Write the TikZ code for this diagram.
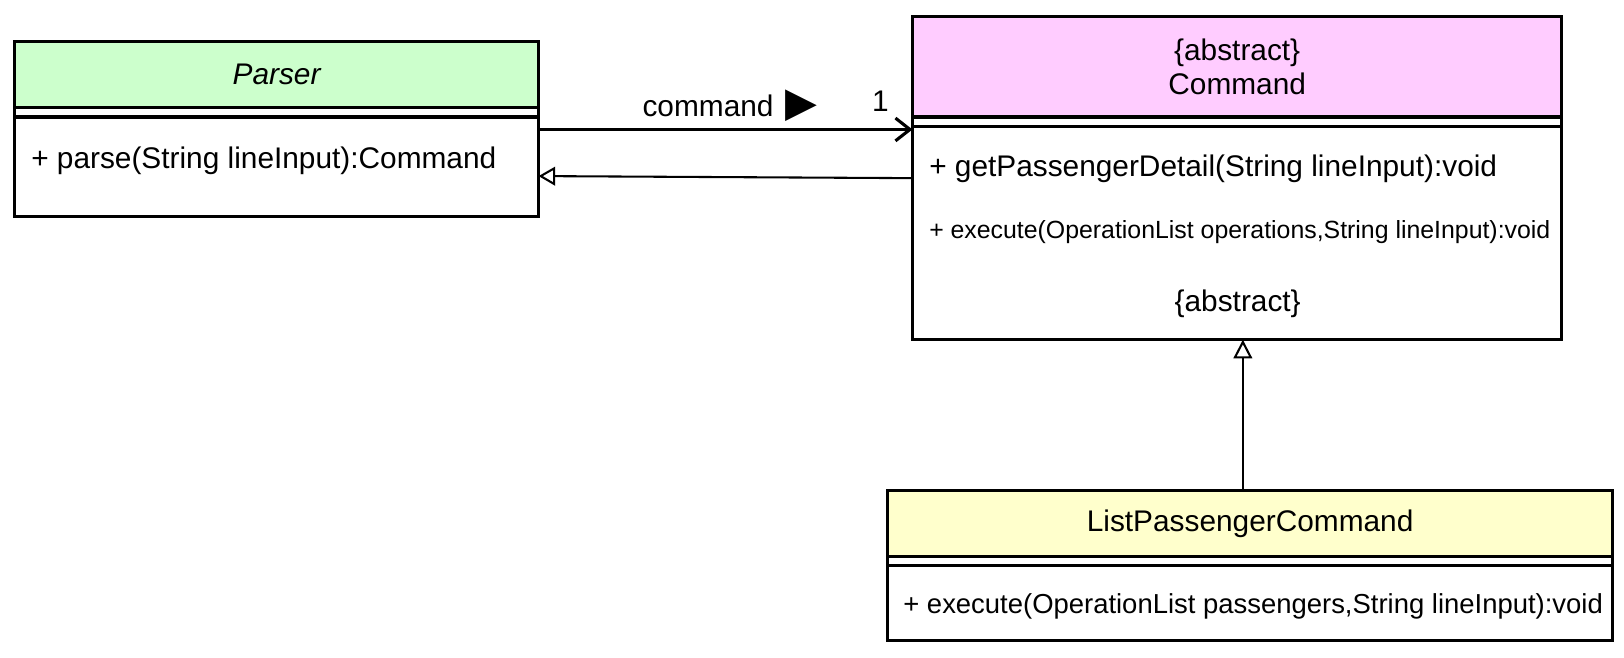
\documentclass[tikz,border=0pt]{standalone}
\usepackage{fontspec}
\setmainfont{Liberation Sans}
\newfontfamily\trianglefont{DejaVu Sans}
\usetikzlibrary{arrows.meta,arrows}
\usetikzlibrary{positioning}

\definecolor{parsergreen}{HTML}{CCFFCC}
\definecolor{commandpink}{HTML}{FFCCFF}
\definecolor{listyellow}{HTML}{FFFFCC}

\tikzset{
  compart/.style={draw, line width=3pt, inner sep=0pt, outer sep=0pt, fill=white},
  umltext/.style={font=\fontsize{28.8}{33}\selectfont, inner sep=0pt},
  smalltext/.style={font=\fontsize{24}{28}\selectfont, inner sep=0pt},
  assoc/.style={line width=3pt, -{Straight Barb[length=14pt,width=22pt]}},
  realize/.style={line width=2pt, -{Triangle[open,length=16pt,width=18pt,fill=white]}},
  inherit/.style={line width=2pt, -{Triangle[open,length=18pt,width=18pt,fill=white]}},
}

\begin{document}
\begin{tikzpicture}[x=1pt,y=-1pt]
    \useasboundingbox (0,0) rectangle (1568,635.3);

    % Parser
    \begin{scope}[every node/.style={compart, minimum width=506pt}]
        \node[fill=parsergreen, minimum height=64pt, umltext] (parserHead) at (267,72) {\itshape Parser};
        \node[minimum height=9pt, below=0pt of parserHead] (parserAttr) {};
        \node[minimum height=96pt, below=0pt of parserAttr] (parserOps) {};
    \end{scope}
    \node[umltext, anchor=west] (parseOp) at (30,155) {+ parse(String lineInput):Command};

    % Command
    \begin{scope}[every node/.style={compart, minimum width=627pt}]
        \node[fill=commandpink, minimum height=97pt, umltext, align=center] (commandHead) at (1194.5,64.5) {\{abstract\}\\Command};
        \node[minimum height=9pt, below=0pt of commandHead] (commandAttr) {};
        \node[minimum height=206pt, below=0pt of commandAttr] (commandOps) {};
    \end{scope}
    \node[umltext, anchor=west] (detailOp) at (897,163) {+ getPassengerDetail(String lineInput):void};
    \node[smalltext, anchor=west] (executeOp) at (897,224) {+ execute(OperationList operations,String lineInput):void};
    \node[umltext] (abstractTag) at (1195,293) {\{abstract\}};

    % ListPassengerCommand
    \begin{scope}[every node/.style={compart, minimum width=700pt}]
        \node[fill=listyellow, minimum height=63pt, umltext] (listHead) at (1207,505.5) {ListPassengerCommand};
        \node[minimum height=9pt, below=0pt of listHead] (listAttr) {};
        \node[minimum height=72pt, below=0pt of listAttr] (listOps) {};
    \end{scope}
    \node[umltext, font=\fontsize{26.5}{30}\selectfont, anchor=west] (listExecOp) at (872,585) {+ execute(OperationList passengers,String lineInput):void};

    % connectors
    \coordinate (assocStart) at ([yshift=-12pt]parserOps.north east);
    \draw[assoc] (assocStart) -- (assocStart -| commandOps.west);
    \node[umltext] (assocName) at (705,102) {command\hspace{12pt}\trianglefont\fontsize{40}{40}\selectfont ▶};
    \node[umltext] (assocMult) at (850,98) {1};

    \draw[realize] ([yshift=-50pt]commandOps.north west) -- ([yshift=-57pt]parserOps.north east);

    \coordinate (genFoot) at ([xshift=-7pt]listHead.north);
    \draw[inherit] (genFoot) -- (genFoot |- commandOps.south);

\end{tikzpicture}
\end{document}
